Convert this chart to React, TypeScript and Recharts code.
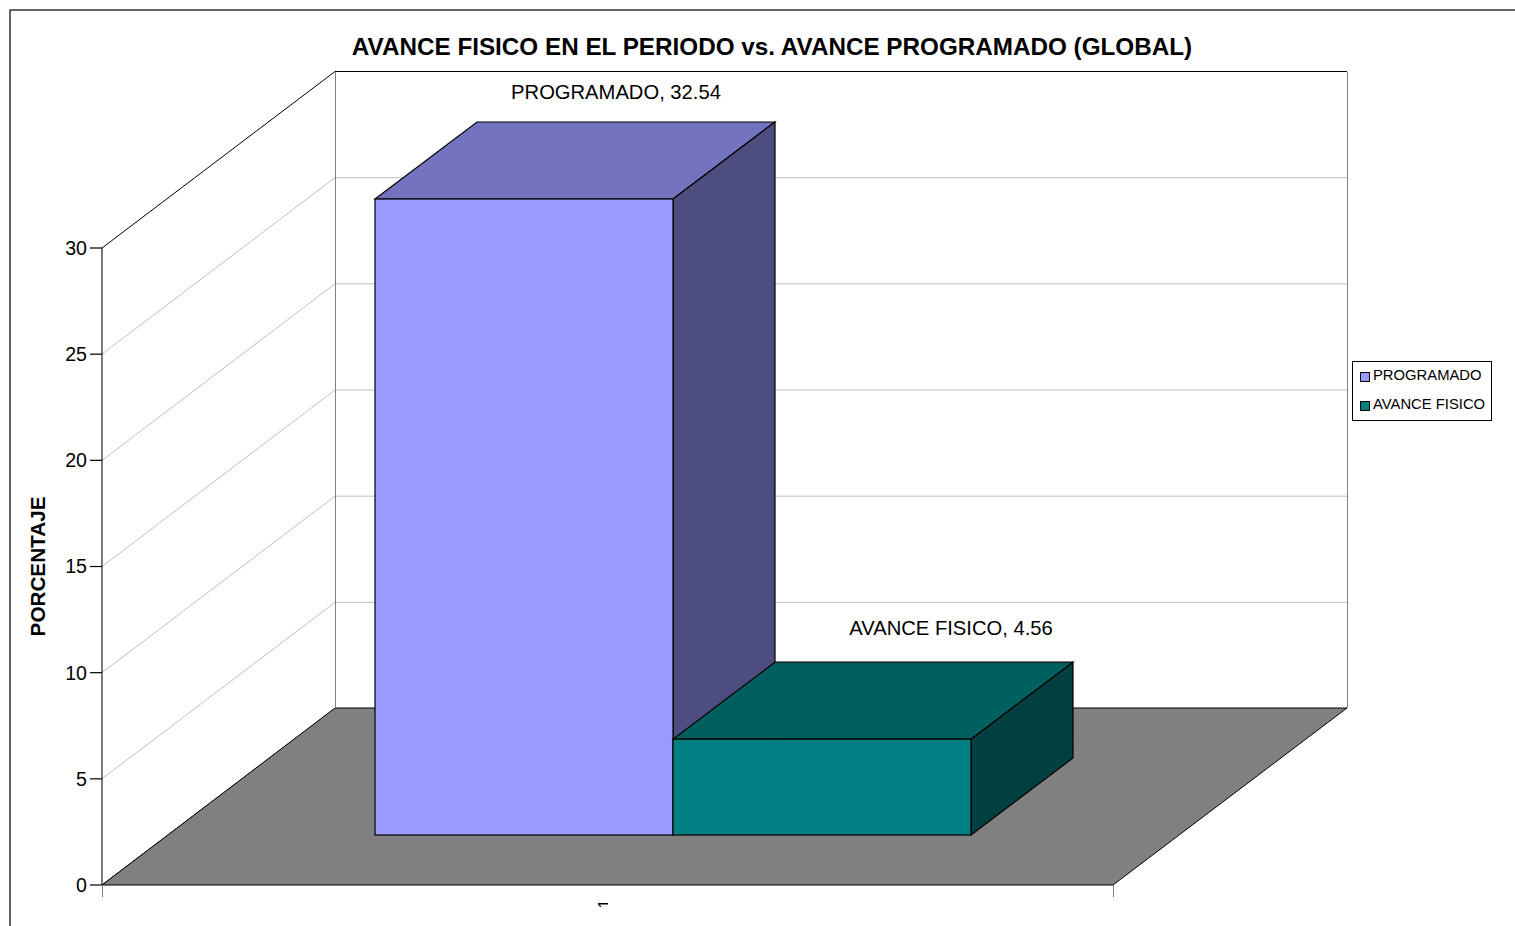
import { BarChart, Bar, XAxis, YAxis, CartesianGrid, Legend, LabelList } from 'recharts';

const categories = ['1'];
const programado = [32.54];
const avanceFisico = [4.56];
const yTicks = [0, 5, 10, 15, 20, 25, 30];
const axisMax = 30;
const titleText = 'AVANCE FISICO EN EL PERIODO vs. AVANCE PROGRAMADO (GLOBAL)';
const yAxisTitle = 'PORCENTAJE';

const data = categories.map((name, i) => ({
  name,
  PROGRAMADO: programado[i],
  'AVANCE FISICO': avanceFisico[i],
}));

const FONT = '"Liberation Sans", Arial, sans-serif';

// 3d look: wall depth and the inset of the bars from the front of the floor
const WALL_DX = 233;
const WALL_DY = 176.5;
const BACK_RIGHT = 1347;
const BAR_INSET_DX = 65;
const BAR_INSET_DY = 49;
const BAR_DX = 102;
const BAR_DY = 77;

const Bar3D = (props: any) => {
  const { x, y, width, height, front, topFace, side } = props;
  const l = x + BAR_INSET_DX;
  const r = l + width;
  const t = y - BAR_INSET_DY;
  const b = y + height - BAR_INSET_DY - 1;
  return (
    <g stroke="#000" strokeWidth={1.2}>
      <polygon points={`${l},${t} ${l + BAR_DX},${t - BAR_DY} ${r + BAR_DX},${t - BAR_DY} ${r},${t}`} fill={topFace} />
      <polygon points={`${r},${t} ${r + BAR_DX},${t - BAR_DY} ${r + BAR_DX},${b - BAR_DY} ${r},${b}`} fill={side} />
      <rect x={l} y={t} width={width} height={b - t} fill={front} />
    </g>
  );
};

const barLabel = (name: string, dx: number, dy: number) => (props: any) => (
  <text
    x={props.x + props.width / 2 + dx}
    y={props.y + dy}
    textAnchor="middle"
    fontFamily={FONT}
    fontSize={20.2}
    fill="#000"
  >
    {`${name}, ${props.value}`}
  </text>
);

// every grid value runs along the left wall and then across the back wall
const gridLine = (props: any) => {
  const { x1, y1, key } = props;
  const isEdge = props.index === yTicks.length - 1 || props.index === 0;
  return (
    <polyline
      key={key}
      points={`${x1},${y1} ${x1 + WALL_DX},${y1 - WALL_DY} ${BACK_RIGHT},${y1 - WALL_DY}`}
      fill="none"
      stroke={isEdge ? '#000' : '#c0c0c0'}
      strokeWidth={1}
    />
  );
};

// the foot of the rotated "1" is cut off, the original glyph has none
const XTick = (props: any) => (
  <g>
    <clipPath id="xTickClip">
      <rect x={props.x - 20} y={props.y - 5} width={20.5} height={30} />
    </clipPath>
    <g clipPath="url(#xTickClip)">
      <text
        x={props.x - 3}
        y={props.y + 11}
        textAnchor="middle"
        dominantBaseline="central"
        transform={`rotate(-90 ${props.x - 3} ${props.y + 11})`}
        fontFamily={FONT}
        fontSize={16}
        fill="#000"
      >
        {props.payload.value}
      </text>
    </g>
  </g>
);

const LegendBox = (props: any) => (
  <div
    style={{
      boxSizing: 'border-box',
      width: 140,
      height: 60,
      border: '1px solid #000',
      background: '#fff',
      fontFamily: FONT,
      fontSize: 14.8,
      color: '#000',
    }}
  >
    {['PROGRAMADO', 'AVANCE FISICO'].map((name, i) => {
      const item = (props.payload || []).find((p: any) => p.value === name);
      return (
        <div key={name} style={{ display: 'flex', alignItems: 'center', height: 29, paddingLeft: 7, marginTop: i === 0 ? -2 : 0 }}>
          <span
            style={{
              boxSizing: 'border-box',
              display: 'inline-block',
              width: 10,
              height: 10,
              marginRight: 3,
              marginTop: 4,
              background: item ? item.color : 'none',
              border: '1px solid #000',
            }}
          />
          {name}
        </div>
      );
    })}
  </div>
);

export default function App() {
  return (
    <div style={{ position: 'absolute', left: 0, top: 0, width: 1515, height: 926, overflow: 'hidden', background: '#fff' }}>
      <BarChart
        width={1515}
        height={926}
        data={data}
        margin={{ top: 248, right: 402, bottom: 11, left: 42 }}
        barGap={0}
        barSize={298}
      >
        <rect x={10} y={10} width={1600} height={1000} fill="none" stroke="#000" strokeWidth={1.2} />
        <polygon points="102,885 335,708 1347,708 1113,885" fill="#808080" stroke="#000" strokeWidth={1} />
        <line x1={335.5} y1={72} x2={335.5} y2={708} stroke="#808080" />
        <line x1={1347.5} y1={72} x2={1347.5} y2={708} stroke="#808080" />
        <line x1={102.5} y1={885} x2={102.5} y2={897} stroke="#808080" />
        <line x1={1113.5} y1={885} x2={1113.5} y2={897} stroke="#808080" />
        <CartesianGrid vertical={false} horizontal={gridLine} />
        <XAxis dataKey="name" height={30} axisLine={false} tickLine={false} tick={<XTick />} />
        <YAxis
          width={60}
          domain={[0, axisMax]}
          ticks={yTicks}
          tickSize={12}
          tickMargin={3}
          interval={0}
          stroke="#000"
          axisLine={{ stroke: '#222', strokeWidth: 1.2 }}
          tickLine={{ stroke: '#000', strokeWidth: 1.2 }}
          tick={{ fontFamily: FONT, fontSize: 19.6, fill: '#000' }}
        />
        <Legend
          layout="vertical"
          align="center"
          verticalAlign="middle"
          content={<LegendBox />}
          wrapperStyle={{ left: 1352, top: 361, width: 140, height: 60 }}
        />
        <Bar
          name="PROGRAMADO"
          dataKey={(d: any) => Math.min(d.PROGRAMADO, axisMax)}
          fill="#9999ff"
          isAnimationActive={false}
          shape={<Bar3D front="#9999ff" topFace="#7373bf" side="#4d4d80" />}
        >
          <LabelList dataKey="PROGRAMADO" content={barLabel('PROGRAMADO', 157, -149)} />
        </Bar>
        <Bar
          name="AVANCE FISICO"
          dataKey="AVANCE FISICO"
          fill="#008080"
          isAnimationActive={false}
          shape={<Bar3D front="#008080" topFace="#006060" side="#004040" />}
        >
          <LabelList dataKey="AVANCE FISICO" content={barLabel('AVANCE FISICO', 194, -153)} />
        </Bar>
        <text x={772} y={55} textAnchor="middle" fontFamily={FONT} fontSize={24.25} fontWeight="bold" fill="#000">
          {titleText}
        </text>
        <text
          x={45}
          y={566.5}
          textAnchor="middle"
          transform="rotate(-90 45 566.5)"
          fontFamily={FONT}
          fontSize={20.7}
          fontWeight="bold"
          fill="#000"
        >
          {yAxisTitle}
        </text>
      </BarChart>
    </div>
  );
}
